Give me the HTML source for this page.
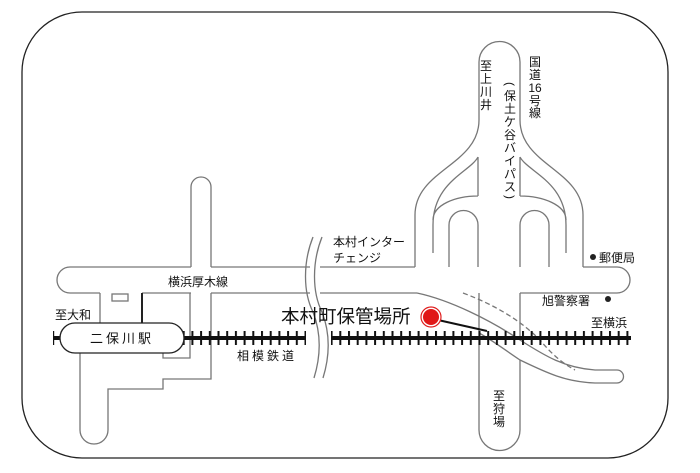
<!DOCTYPE html>
<html><head><meta charset="utf-8"><style>
html,body{margin:0;padding:0;background:#fff;}
svg{display:block;}
text{font-family:"Liberation Sans","Noto Sans CJK JP",sans-serif;fill:#111;}
</style></head><body>
<svg width="700" height="473" viewBox="0 0 700 473" xmlns="http://www.w3.org/2000/svg">
<defs>
<pattern id="ties" x="0" y="0" width="8.7" height="14" patternUnits="userSpaceOnUse">
<rect x="0" y="0" width="2" height="14" fill="#111"/>
</pattern>
</defs>
<rect x="22" y="12" width="646" height="446" rx="60" ry="60" fill="#fff" stroke="#222" stroke-width="1.3"/>

<g fill="none" stroke="#777" stroke-width="1.3">
<path d="M70,267 A13,13 0 0 0 70,293"/>
<path d="M70,267 L191,267 M211,267 L310,267 M320,267 L415,267 M583,267 L617,267"/>
<path d="M617,267 A13,13 0 0 1 617,293"/>
<path d="M70,293 L100,293 M142,293 L191,293 M211,293 L310,293 M320,293 L417,293 M520,293 L617,293"/>
<path d="M191,267 L191,187 A10,10 0 0 1 211,187 L211,267"/>
<path d="M211,293 L211,379 L163,379 L163,389 L108,389 L108,430 A14,14 0 0 1 80,430 L80,353"/>
<path d="M100,293 L100,323"/>
<path d="M163,340 L163,358 L190,358 L190,293"/>
<rect x="112" y="294" width="16" height="7"/>
<path d="M415,267 L415,215 C415,170 479,165 479,120 L479,62 A20.5,20.5 0 0 1 520,62 L520,120 C520,165 583,170 583,215 L583,267"/>
<path d="M449,267 L449,225 A14.5,14.5 0 0 1 478,225 L478,267"/>
<path d="M520,267 L520,225 A14.5,14.5 0 0 1 549,225 L549,267"/>
<path d="M478,157 L478,196 M478,157 C470,172 433,182 433,225 L433,253 M478,196 C455,196 433,205 433,220"/>
<path d="M520,157 L520,196 M520,157 C528,172 566,182 566,225 L566,253 M520,196 C543,196 566,205 566,220"/>
<path d="M479,293 L479,430 A20.5,20.5 0 0 0 520,430 L520,360 M520,293 L520,340"/>
<path d="M417,293 C450,300 490,320 520,340 C545,356 565,368 595,370 L617,370 A6.5,6.5 0 0 1 617,383 L595,383 C565,382 545,372 520,360 C505,350 492,340 479,333"/>
<path d="M463,293 C495,305 520,320 540,340 C550,352 560,362 575,370" stroke-dasharray="5,3"/>
<path d="M313,237 C303,262 303,292 313,312 C320,330 322,352 314,378"/>
<path d="M322,237 C312,262 312,292 322,312 C329,330 331,352 323,378"/>
</g>
<path d="M142,293 L142,323" stroke="#222" stroke-width="2"/>

<g>
<rect x="53" y="336" width="253" height="4" fill="#111"/>
<rect x="53" y="331" width="253" height="14" fill="url(#ties)"/>
<rect x="331" y="336" width="300" height="4" fill="#111"/>
<rect x="331" y="331" width="300" height="14" fill="url(#ties)"/>
</g>
<rect x="60" y="323" width="124" height="30" rx="15" fill="#fff" stroke="#222" stroke-width="1.3"/>
<text x="122" y="343" font-size="13" text-anchor="middle" letter-spacing="3">二保川駅</text>

<line x1="438" y1="320" x2="487" y2="331" stroke="#111" stroke-width="2"/>
<circle cx="431" cy="317" r="10" fill="#fff" stroke="#e02020" stroke-width="1.2"/>
<circle cx="431" cy="317" r="8" fill="#e01818"/>

<text x="281" y="323" font-size="18.5">本村町保管場所</text>
<text x="237" y="360" font-size="12" letter-spacing="3">相模鉄道</text>
<text x="168" y="286" font-size="12">横浜厚木線</text>
<text x="55" y="319" font-size="12">至大和</text>
<text x="333" y="246" font-size="12">本村インター</text>
<text x="333" y="262" font-size="12">チェンジ</text>
<text x="591" y="327" font-size="12">至横浜</text>
<text x="542" y="305" font-size="12">旭警察署</text>
<circle cx="608" cy="299" r="3" fill="#222"/>
<circle cx="593" cy="257" r="3" fill="#222"/>
<text x="599" y="262" font-size="12">郵便局</text>
<g font-size="12" text-anchor="middle">
<text x="486" y="70">至</text><text x="486" y="83">上</text><text x="486" y="96">川</text><text x="486" y="109">井</text>
<text x="535" y="66">国</text><text x="535" y="79">道</text><text x="535" y="92">16</text><text x="535" y="105">号</text><text x="535" y="117">線</text>
<text transform="translate(510,84) rotate(90)" x="0" y="4">(</text>
<text x="510" y="100">保</text><text x="510" y="113">土</text><text x="510" y="126">ケ</text><text x="510" y="139">谷</text><text x="510" y="152">バ</text><text x="510" y="165">イ</text><text x="510" y="178">パ</text><text x="510" y="191">ス</text>
<text transform="translate(510,197) rotate(90)" x="0" y="4">)</text>
<text x="499" y="400">至</text><text x="499" y="413">狩</text><text x="499" y="426">場</text>
</g>
</svg>
</body></html>
